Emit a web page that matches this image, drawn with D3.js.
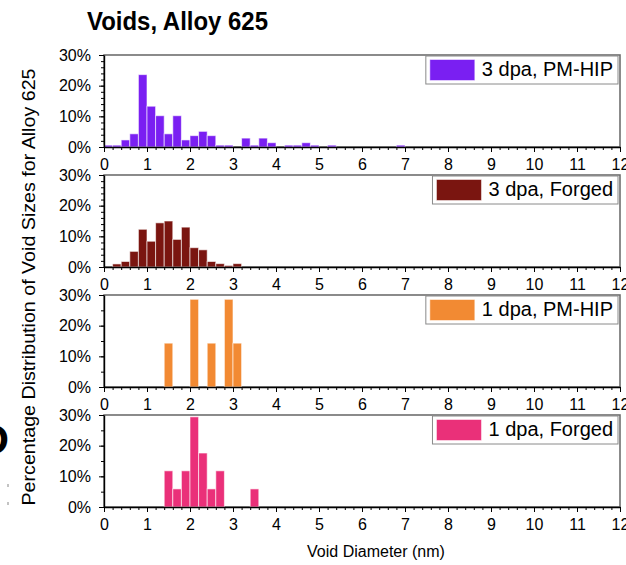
<!DOCTYPE html>
<html>
<head>
<meta charset="utf-8">
<script src="https://cdn.jsdelivr.net/npm/d3@7"></script>
<style>
    body { margin: 0; background: #fff; }
    svg { display: block; font-family: 'Liberation Sans', Arial, sans-serif; }
</style>
</head>
<body>
<div class="chart-container"></div>
<script>
// bin lower edges (nm), bin width 0.2
const bins = [0.0, 0.2, 0.4, 0.6, 0.8, 1.0, 1.2, 1.4, 1.6, 1.8, 2.0, 2.2, 2.4, 2.6, 2.8, 3.0, 3.2, 3.4,
    3.6, 3.8, 4.0, 4.2, 4.4, 4.6, 4.8, 5.0, 5.2, 5.4, 5.6, 5.8, 6.0, 6.2, 6.4, 6.6, 6.8, 7.0];

// percentages per bin
const pmhip3 = [0.6, 0.6, 2.3, 4.3, 23.6, 13.3, 10.2, 4.3, 10.2, 2.3, 3.7, 5.1, 3.7, 0.6, 0.6, 0, 2.9, 0.6,
    2.9, 1.4, 0, 0.6, 0.6, 1.4, 0.6, 0, 0.6, 0, 0, 0, 0, 0, 0, 0, 0.6, 0];
const forged3 = [0, 1.0, 1.8, 5.1, 12.3, 8.4, 14.4, 15.0, 9.0, 13.0, 6.3, 5.6, 1.8, 1.1, 0.5, 1.1, 0, 0,
    0, 0, 0, 0, 0, 0, 0, 0, 0, 0, 0, 0, 0, 0, 0, 0, 0, 0];
const pmhip1 = [0, 0, 0, 0, 0, 0, 0, 14.3, 0, 0, 28.6, 0, 14.3, 0, 28.6, 14.3, 0, 0,
    0, 0, 0, 0, 0, 0, 0, 0, 0, 0, 0, 0, 0, 0, 0, 0, 0, 0];
const forged1 = [0, 0, 0, 0, 0, 0, 0, 11.8, 5.9, 11.8, 29.4, 17.6, 5.9, 11.8, 0, 0, 0, 5.9,
    0, 0, 0, 0, 0, 0, 0, 0, 0, 0, 0, 0, 0, 0, 0, 0, 0, 0];

const seriesNames = ['3 dpa, PM-HIP', '3 dpa, Forged', '1 dpa, PM-HIP', '1 dpa, Forged'];
const seriesColors = ['#7a1ff2', '#7a1510', '#f28a33', '#ea3079'];
const seriesValues = [pmhip3, forged3, pmhip1, forged1];
const yMinorStep = [2, 2, 5, 5];

const xTicks = [0, 1, 2, 3, 4, 5, 6, 7, 8, 9, 10, 11, 12];
const yTicks = [0, 10, 20, 30];
const binWidth = 0.2;

const width = 626;
const height = 565;
const panelTop = 55;
const panelStep = 120;
const panelHeight = 92;

const svg = d3.select('.chart-container').append('svg')
    .attr('width', width)
    .attr('height', height)
    .attr('viewBox', '0 0 ' + width + ' ' + height);

const x = d3.scaleLinear().domain([0, 12]).range([104, 620]);

// title
svg.append('text')
    .attr('x', 87)
    .attr('y', 29.5)
    .attr('font-size', 26)
    .attr('font-weight', 'bold')
    .attr('textLength', 181)
    .attr('lengthAdjust', 'spacingAndGlyphs')
    .text('Voids, Alloy 625');

// fragment of a neighbouring panel label on the left edge
svg.append('text')
    .attr('x', -22)
    .attr('y', 454)
    .attr('font-size', 43)
    .attr('font-weight', 'bold')
    .text('D');

seriesValues.forEach(function (values, i) {
    const top = panelTop + i * panelStep;
    const bottom = top + panelHeight;
    const y = d3.scaleLinear().domain([0, 30]).range([bottom, top]);
    const g = svg.append('g').attr('class', 'panel-' + i);

    // frame
    g.append('rect')
        .attr('x', x(0))
        .attr('y', top)
        .attr('width', x(12) - x(0))
        .attr('height', bottom - top)
        .attr('fill', 'none')
        .attr('stroke', '#6e6e6e')
        .attr('stroke-width', 1.6);

    // bars
    const data = bins.map(function (b, k) { return { bin: b, value: values[k] }; })
        .filter(function (d) { return d.value > 0; });
    g.selectAll('.bar')
        .data(data)
        .enter()
        .append('rect')
        .attr('class', 'bar')
        .attr('x', (d) => x(d.bin))
        .attr('y', (d) => y(d.value))
        .attr('width', (d) => x(d.bin + binWidth) - x(d.bin))
        .attr('height', (d) => y(0) - y(d.value))
        .attr('fill', seriesColors[i])
        .attr('stroke', '#fff')
        .attr('stroke-opacity', 0.6)
        .attr('stroke-width', 1);

    // x axis, minor then major
    const minorX = d3.range(0, 12.001, binWidth);
    g.append('g')
        .attr('transform', 'translate(0,' + bottom + ')')
        .call(d3.axisBottom(x).tickValues(minorX).tickSize(3).tickFormat(''))
        .call((a) => a.select('.domain').remove());
    g.append('g')
        .attr('transform', 'translate(0,' + bottom + ')')
        .call(d3.axisBottom(x).tickValues(xTicks).tickSize(5).tickPadding(7).tickSizeOuter(0))
        .attr('font-family', null)
        .attr('font-size', 16)
        .call((a) => a.selectAll('text').attr('fill', '#000'))
        .call((a) => a.select('.domain').attr('stroke-width', 1.4));

    // y axis
    const minorY = d3.range(0, 30.001, yMinorStep[i]);
    g.append('g')
        .attr('transform', 'translate(' + x(0) + ',0)')
        .call(d3.axisLeft(y).tickValues(minorY).tickSize(3).tickFormat(''))
        .call((a) => a.select('.domain').remove());
    g.append('g')
        .attr('transform', 'translate(' + x(0) + ',0)')
        .call(d3.axisLeft(y).tickValues(yTicks).tickSize(5).tickPadding(8).tickSizeOuter(0)
            .tickFormat((d) => d + '%'))
        .attr('font-family', null)
        .attr('font-size', 16)
        .call((a) => a.selectAll('text').attr('fill', '#000'))
        .call((a) => a.select('.domain').attr('stroke-width', 1.4));

    // legend, right aligned in the panel
    const legend = g.append('g');
    const box = legend.append('rect');
    const label = legend.append('text')
        .attr('font-size', 20)
        .attr('y', top + 21)
        .text(seriesNames[i]);
    const textW = label.node().getComputedTextLength();
    const boxW = 4 + 45 + 7 + textW + 5;
    const boxX = 618 - boxW;
    box.attr('x', boxX)
        .attr('y', top + 1)
        .attr('width', boxW)
        .attr('height', 28)
        .attr('fill', '#fff')
        .attr('stroke', '#8a8a8a')
        .attr('stroke-width', 1);
    legend.append('rect')
        .attr('x', boxX + 4)
        .attr('y', top + 4.5)
        .attr('width', 45)
        .attr('height', 21)
        .attr('fill', seriesColors[i])
        .attr('stroke', '#fff')
        .attr('stroke-opacity', 0.5);
    label.attr('x', boxX + 4 + 45 + 7);
});

// axis titles
svg.append('text')
    .attr('transform', 'translate(35,287) rotate(-90)')
    .attr('text-anchor', 'middle')
    .attr('font-size', 18)
    .attr('textLength', 437)
    .attr('lengthAdjust', 'spacingAndGlyphs')
    .text('Percentage Distribution of Void Sizes for Alloy 625');

svg.append('text')
    .attr('x', 376)
    .attr('y', 557)
    .attr('text-anchor', 'middle')
    .attr('font-size', 16)
    .text('Void Diameter (nm)');

// stray marks at the left edge
[484, 502].forEach(function (yy) {
    svg.append('rect').attr('x', 7.5).attr('y', yy).attr('width', 1).attr('height', 3).attr('fill', '#888');
});
</script>
</body>
</html>
